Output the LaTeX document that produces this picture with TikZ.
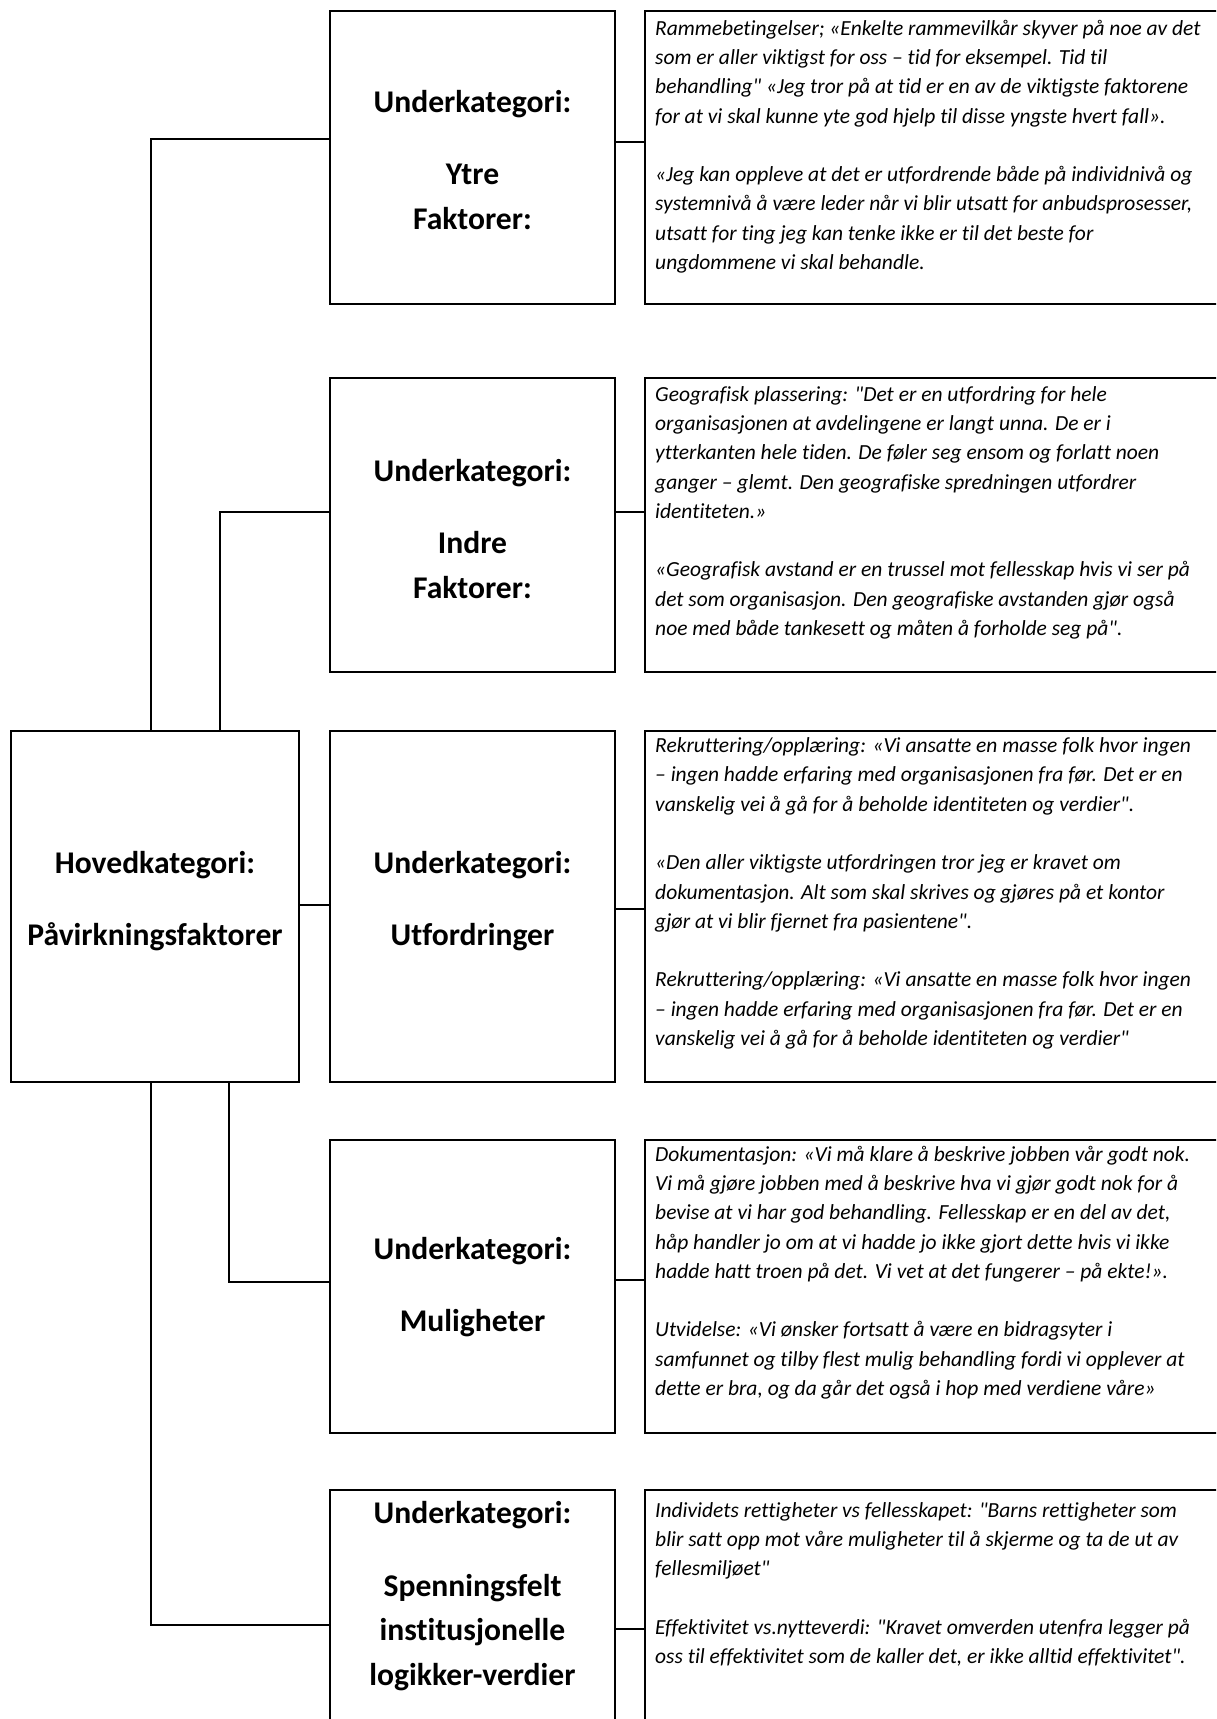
\documentclass[tikz,border=0pt]{standalone}
\usepackage{fontspec}
\setmainfont{Carlito}[Ligatures={TeXOff,NoCommon}]
\usepackage{tikz}
\usetikzlibrary{positioning, calc}

\tikzset{
  catbox/.style={draw, line width=2.2pt, inner sep=0pt},
  subbox/.style={catbox, minimum width=285pt},
  quotebox/.style={catbox, minimum width=595pt},
  cattext/.style={font=\bfseries\fontsize{31.6}{44.5}\selectfont, align=center, anchor=base, inner sep=0pt},
  quotetext/.style={font=\itshape\fontsize{21.5}{29.3}\selectfont, align=left, anchor=base west, inner sep=0pt},
  link/.style={line width=1.3pt}
}

\begin{document}
\begin{tikzpicture}[x=1pt, y=-1pt]
  \useasboundingbox (0,0) rectangle (1216,1719);
  \clip (0,0) rectangle (1216,1719);

  % main category
  \node[catbox, minimum width=288pt, minimum height=351pt] (hoved) at (155,906.5) {};
  \node[cattext] (hovedtxt) at (155,945) {Hovedkategori:\\[27.5pt] Påvirkningsfaktorer};

  % sub categories (text anchored on its last baseline)
  \node[subbox, minimum height=293pt] (ytre) at (472.5,157.5) {};
  \node[subbox, minimum height=294pt] (indre) at (472.5,525) {};
  \node[subbox, minimum height=351pt] (utford) at (472.5,906.5) {};
  \node[subbox, minimum height=293pt] (mulig) at (472.5,1286.5) {};
  \node[subbox, minimum height=270pt] (spenn) at (472.5,1625) {};

  \node[cattext] (ytretxt) at (472.5,229) {Underkategori:\\[27.5pt] Ytre\\ Faktorer:};
  \node[cattext] (indretxt) at (472.5,598) {Underkategori:\\[27.5pt] Indre\\ Faktorer:};
  \node[cattext] (utfordtxt) at (472.5,945) {Underkategori:\\[27.5pt] Utfordringer};
  \node[cattext] (muligtxt) at (472.5,1331) {Underkategori:\\[27.5pt] Muligheter};
  \node[cattext] (spenntxt) at (472.5,1685) {Underkategori:\\[28.5pt] Spenningsfelt\\ institusjonelle\\ logikker-verdier};

  % quote boxes
  \node[quotebox, minimum height=293pt] (qytre) at (942.5,157.5) {};
  \node[quotebox, minimum height=294pt] (qindre) at (942.5,525) {};
  \node[quotebox, minimum height=351pt] (qutford) at (942.5,906.5) {};
  \node[quotebox, minimum height=293pt] (qmulig) at (942.5,1286.5) {};
  \node[quotebox, minimum height=270pt] (qspenn) at (942.5,1625) {};

  \node[quotetext] (qytretxt) at (655,269.5) {Rammebetingelser; «Enkelte rammevilkår skyver på noe av det\\
    som er aller viktigst for oss – tid for eksempel. Tid til\\
    behandling" «Jeg tror på at tid er en av de viktigste faktorene\\
    for at vi skal kunne yte god hjelp til disse yngste hvert fall».\\[29.3pt]
    «Jeg kan oppleve at det er utfordrende både på individnivå og\\
    systemnivå å være leder når vi blir utsatt for anbudsprosesser,\\
    utsatt for ting jeg kan tenke ikke er til det beste for\\
    ungdommene vi skal behandle.};
  \node[quotetext] (qindretxt) at (655,635.5) {Geografisk plassering: "Det er en utfordring for hele\\
    organisasjonen at avdelingene er langt unna. De er i\\
    ytterkanten hele tiden. De føler seg ensom og forlatt noen\\
    ganger – glemt. Den geografiske spredningen utfordrer\\
    identiteten.»\\[29.3pt]
    «Geografisk avstand er en trussel mot fellesskap hvis vi ser på\\
    det som organisasjon. Den geografiske avstanden gjør også\\
    noe med både tankesett og måten å forholde seg på".};
  \node[quotetext] (qutfordtxt) at (655,1045.5) {Rekruttering/opplæring: «Vi ansatte en masse folk hvor ingen\\
    – ingen hadde erfaring med organisasjonen fra før. Det er en\\
    vanskelig vei å gå for å beholde identiteten og verdier".\\[29.3pt]
    «Den aller viktigste utfordringen tror jeg er kravet om\\
    dokumentasjon. Alt som skal skrives og gjøres på et kontor\\
    gjør at vi blir fjernet fra pasientene".\\[29.3pt]
    Rekruttering/opplæring: «Vi ansatte en masse folk hvor ingen\\
    – ingen hadde erfaring med organisasjonen fra før. Det er en\\
    vanskelig vei å gå for å beholde identiteten og verdier"};
  \node[quotetext] (qmuligtxt) at (655,1395.5) {Dokumentasjon: «Vi må klare å beskrive jobben vår godt nok.\\
    Vi må gjøre jobben med å beskrive hva vi gjør godt nok for å\\
    bevise at vi har god behandling. Fellesskap er en del av det,\\
    håp handler jo om at vi hadde jo ikke gjort dette hvis vi ikke\\
    hadde hatt troen på det. Vi vet at det fungerer – på ekte!».\\[29.3pt]
    Utvidelse: «Vi ønsker fortsatt å være en bidragsyter i\\
    samfunnet og tilby flest mulig behandling fordi vi opplever at\\
    dette er bra, og da går det også i hop med verdiene våre»};
  \node[quotetext] (qspenntxt) at (655,1663.5) {Individets rettigheter vs fellesskapet: "Barns rettigheter som\\
    blir satt opp mot våre muligheter til å skjerme og ta de ut av\\
    fellesmiljøet"\\[29.3pt]
    Effektivitet vs.nytteverdi: "Kravet omverden utenfra legger på\\
    oss til effektivitet som de kaller det, er ikke alltid effektivitet".};

  % connectors main -> sub
  \draw[link] (hoved.north -| 151,0) |- (ytre.west |- 0,139);
  \draw[link] (hoved.north -| 220,0) |- (indre.west |- 0,512);
  \draw[link] (hoved.east |- 0,905) -- (utford.west |- 0,905);
  \draw[link] (hoved.south -| 229,0) |- (mulig.west |- 0,1282);
  \draw[link] (hoved.south -| 151,0) |- (spenn.west |- 0,1625);

  % connectors sub -> quotes
  \foreach \s/\y in {ytre/142, indre/512, utford/909, mulig/1280, spenn/1629}
    \draw[link] (\s.east |- 0,\y) -- (q\s.west |- 0,\y);
\end{tikzpicture}
\end{document}
